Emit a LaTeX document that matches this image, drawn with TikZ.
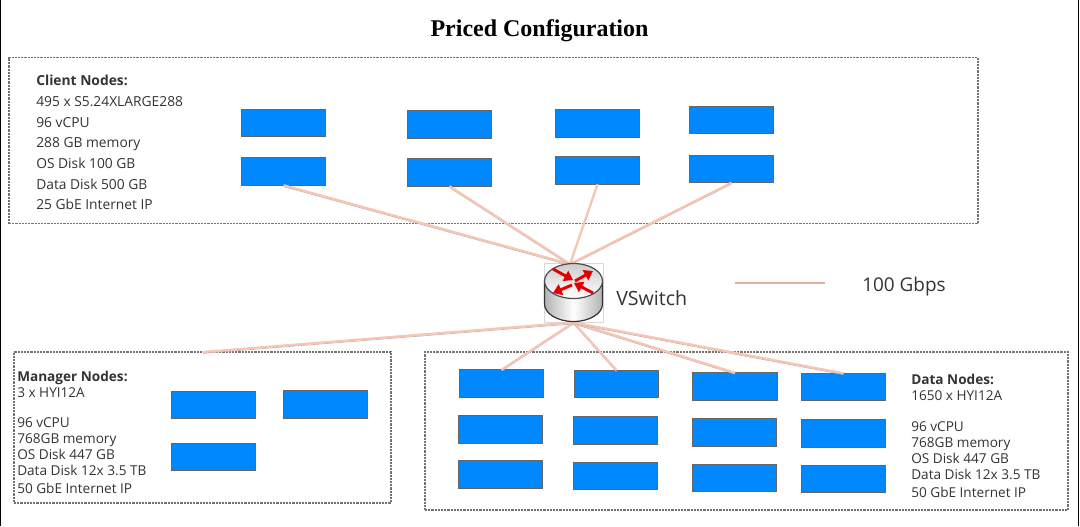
\documentclass[tikz,border=0pt]{standalone}
\usepackage{fontspec}
\setmainfont{Open Sans}
\newfontfamily\titlefont{Liberation Serif}
\usetikzlibrary{arrows.meta,positioning,calc}
\definecolor{nodeblue}{HTML}{0088FF}
\definecolor{linkpink}{HTML}{F8C4B4}
\definecolor{labelgray}{HTML}{333333}
\tikzset{
  server/.style={draw=black!60, fill=nodeblue, line width=0.7pt, minimum width=63.2pt, minimum height=20.6pt, inner sep=0pt, outer sep=0pt},
  group/.style={draw=black!55, dash pattern=on 1.6pt off 0.8pt, line width=0.8pt, inner sep=0pt, outer sep=0pt},
  link/.style={draw=linkpink, line width=1.7pt, preaction={draw=black!30, line width=0.5pt, transform canvas={yshift=-1pt}}},
  info/.style={text=labelgray, align=left, anchor=north west, inner sep=0pt, font=\fontsize{10.35}{15.5}\selectfont},
  redarrow/.style={draw=red!90!black, line width=2.2pt, -{Triangle[length=6.5pt,width=8.5pt]}}
}

\begin{document}
\begin{tikzpicture}[x=0.75pt,y=-0.75pt]
  \useasboundingbox (0,0) rectangle (1080,526);
  \draw[black, line width=1.1pt] (0.5,0) -- (0.5,526);
  \draw[black, line width=1.1pt] (1078.5,0) -- (1078.5,526);

  \node[font=\titlefont\bfseries\fontsize{18}{20}\selectfont] (title) at (539.5,31) {Priced Configuration};

  % dashed groups
  \node[group, minimum width=726.75pt, minimum height=124.5pt] (clientbox) at (493.5,140.5) {};
  \node[group, minimum width=282.75pt, minimum height=113.25pt] (managerbox) at (202.5,427.5) {};
  \node[group, minimum width=482.25pt, minimum height=118.5pt] (databox) at (746.5,431) {};
  \coordinate (managertop) at (203,352);

  % servers
  \foreach \name/\x/\y in {client1/283.5/123, client2/449.5/124.5, client3/597.5/123.5, client4/731.5/120,
      client5/283.5/171.5, client6/449.5/172.5, client7/597.5/170.5, client8/731.5/169,
      manager1/213.5/405, manager2/325.5/404.5, manager3/213.5/457,
      data1/501.5/383.5, data2/616.5/384, data3/735/386.5, data4/843.5/387,
      data5/500.5/429.5, data6/615.5/430.5, data7/734.5/432.5, data8/843.5/433.5,
      data9/500.5/474.5, data10/615.5/476, data11/734.5/478, data12/843.5/479}
    \node[server] (\name) at (\x,\y) {};

  % switch
  \node[draw=black!15, line width=0.6pt, minimum width=44.25pt, minimum height=44.25pt, inner sep=0pt, outer sep=0pt] (vswitch) at (573.5,293) {};
  \coordinate (vswitchtop) at (570,264);

  % links
  \foreach \name in {client5,client6,client7,client8}
    \draw[link] (\name.south) -- (vswitchtop);
  \foreach \name in {data1,data2,data3,data4}
    \draw[link] (vswitch.south) -- (\name.north);
  \draw[link] (vswitch.south) -- (managertop);

  % switch icon
  \path[draw=black!80, line width=0.9pt, left color=black!30, right color=black!30, middle color=white]
    (544.5,281) -- (544.5,304) arc[start angle=180, end angle=0, x radius=29, y radius=17.5] -- (602.5,281) -- cycle;
  \path[draw=black!70, line width=0.9pt, top color=black!20, bottom color=white] (573.5,281) ellipse[x radius=29, y radius=17.5];
  \draw[redarrow] (553,269) -- (573,280);
  \draw[redarrow] (575,281) -- (593,271);
  \draw[redarrow] (593,293) -- (574,283);
  \draw[redarrow] (572,285) -- (553,293);

  \node[text=labelgray, font=\fontsize{14.7}{16}\selectfont, anchor=west, inner sep=0pt] (vswitchlabel) at (616,298) {VSwitch};

  % legend
  \coordinate (legendleft) at (735,283);
  \coordinate (legendright) at (825,283);
  \draw[draw=linkpink!90!black, line width=2pt] (legendleft) -- (legendright);
  \node[text=labelgray, font=\fontsize{14.2}{16}\selectfont, anchor=west, inner sep=0pt] (legendlabel) at (862,287) {100 Gbps};

  % texts
  \node[info] (clientinfo) at (36,75) {\textbf{Client Nodes:}\\495 x S5.24XLARGE288\\96 vCPU\\288 GB memory\\OS Disk 100 GB\\Data Disk 500 GB\\25 GbE Internet IP};
  \node[info, font=\fontsize{10.2}{12}\selectfont] (managerinfo) at (17,370.5) {\textbf{Manager Nodes:}\\3 x HYI12A\\[11pt]96 vCPU\\768GB memory\\OS Disk 447 GB\\Data Disk 12x 3.5 TB\\[1.5pt]50 GbE Internet IP};
  \node[info, font=\fontsize{10.2}{12}\selectfont] (datainfo) at (911,374) {\textbf{Data Nodes:}\\1650 x HYI12A\\[11pt]96 vCPU\\768GB memory\\OS Disk 447 GB\\Data Disk 12x 3.5 TB\\[1.5pt]50 GbE Internet IP};
\end{tikzpicture}
\end{document}
